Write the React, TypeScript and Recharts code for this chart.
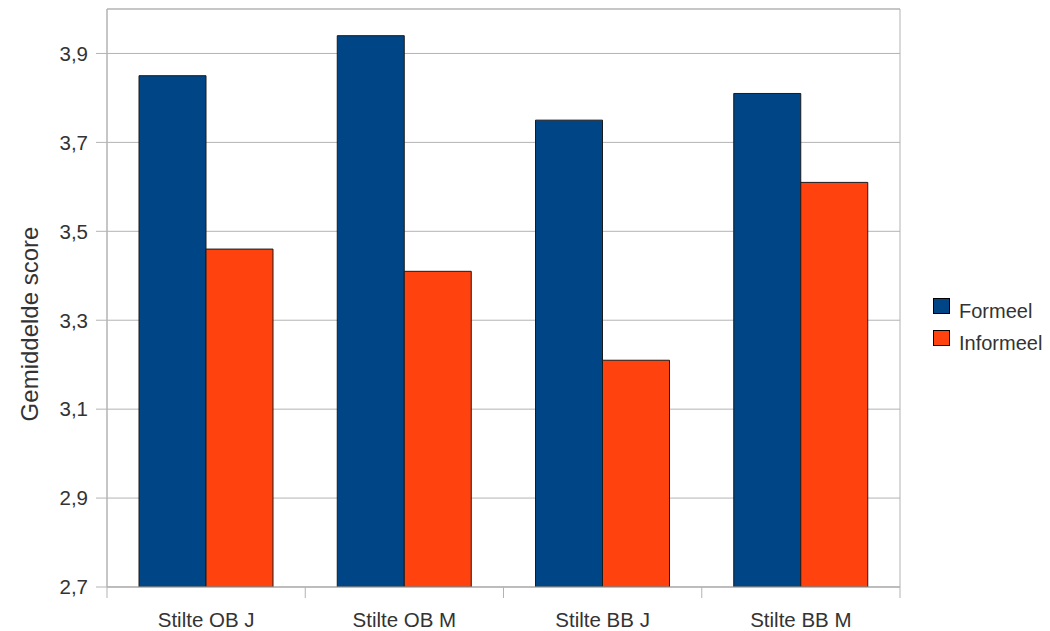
import React from "react";
import {
  BarChart,
  Bar,
  XAxis,
  YAxis,
  CartesianGrid,
  ReferenceArea,
} from "recharts";

const categories = ["Stilte OB J", "Stilte OB M", "Stilte BB J", "Stilte BB M"];
const formeel = [3.85, 3.94, 3.75, 3.81];
const informeel = [3.46, 3.41, 3.21, 3.61];
const yTicks = [2.7, 2.9, 3.1, 3.3, 3.5, 3.7, 3.9];
const yDomain = [2.7, 4.0];
const seriesNames = ["Formeel", "Informeel"];

const data = categories.map((c, i) => ({
  name: c,
  Formeel: formeel[i],
  Informeel: informeel[i],
}));

const FONT = "'Liberation Sans', Arial, sans-serif";
const TEXT = "#333333";
const GRID = "#b3b3b3";
const BLUE = "#004586";
const ORANGE = "#ff420e";
const COLORS = [BLUE, ORANGE];

const CatTick = (props: any) => {
  const { x, y, payload, index, visibleTicksCount } = props;
  const half = payload && payload.offset ? payload.offset : 0;
  const last = index === (visibleTicksCount ?? categories.length) - 1;
  return (
    <g>
      <line x1={x - half} x2={x - half} y1={y} y2={y + 11} stroke={GRID} strokeWidth={1} />
      {last && (
        <line x1={x + half} x2={x + half} y1={y} y2={y + 11} stroke={GRID} strokeWidth={1} />
      )}
      <text
        x={x}
        y={y + 40}
        textAnchor="middle"
        fill={TEXT}
        fontSize={20.5}
        fontFamily={FONT}
      >
        {payload.value}
      </text>
    </g>
  );
};

const LegendBox = () => (
  <svg
    width={117}
    height={62}
    style={{ position: "absolute", left: 933, top: 296 }}
  >
    {seriesNames.map((n, i) => (
      <g key={n}>
        <rect x={0.5} y={2.5 + i * 32} width={16} height={15} fill={COLORS[i]} stroke="#000" strokeWidth={1} />
        <text x={26} y={22 + i * 32} fontSize={20} fontFamily={FONT} fill={TEXT}>
          {n}
        </text>
      </g>
    ))}
  </svg>
);

const YLabel = (props: any) => {
  const vb = props.viewBox || { x: 0, y: 0, width: 0, height: 0 };
  const cx = 38;
  const cy = vb.y + vb.height / 2 + 26;
  return (
    <text
      x={cx}
      y={cy}
      transform={`rotate(-90 ${cx} ${cy})`}
      textAnchor="middle"
      fontSize={24}
      fontFamily={FONT}
      fill={TEXT}
    >
      Gemiddelde score
    </text>
  );
};

export default function App() {
  return (
    <div style={{ position: "absolute", left: 0, top: 0, width: 1050, height: 631, background: "#fff" }}>
      <BarChart
        width={1050}
        height={631}
        data={data}
        margin={{ top: 9, right: 150, bottom: 0, left: 0 }}
        barCategoryGap={32}
        barGap={0}
      >
        <CartesianGrid vertical={false} stroke={GRID} strokeWidth={1} />
        <ReferenceArea
          y1={yDomain[0]}
          y2={yDomain[1]}
          fill="none"
          fillOpacity={0}
          stroke={GRID}
          strokeWidth={1}
          ifOverflow="visible"
        />
        <XAxis
          dataKey="name"
          height={44}
          tickLine={false}
          tickSize={0}
          tickMargin={0}
          axisLine={{ stroke: GRID }}
          tick={<CatTick />}
          interval={0}
        />
        <YAxis
          width={107}
          domain={yDomain}
          ticks={yTicks}
          type="number"
          allowDataOverflow
          tickSize={11}
          tickMargin={8}
          tickLine={{ stroke: GRID }}
          axisLine={{ stroke: GRID }}
          tick={{ fill: TEXT, fontSize: 20.5, fontFamily: FONT }}
          tickFormatter={(v: number) => v.toFixed(1).replace(".", ",")}
          label={<YLabel />}
        />
        <Bar dataKey="Formeel" fill={BLUE} stroke="#1a1a1a" strokeWidth={1} isAnimationActive={false} />
        <Bar dataKey="Informeel" fill={ORANGE} stroke="#1a1a1a" strokeWidth={1} isAnimationActive={false} />
      </BarChart>
      <LegendBox />
    </div>
  );
}
